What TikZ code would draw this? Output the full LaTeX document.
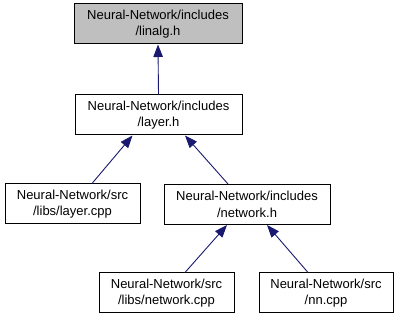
\documentclass[tikz,border=0pt]{standalone}
\usepackage{fontspec}
\setmainfont{Liberation Sans}
\usetikzlibrary{arrows.meta}
\definecolor{edgeblue}{HTML}{191970}
\definecolor{focusgray}{HTML}{BFBFBF}
\begin{document}
\begin{tikzpicture}[x=1pt,y=-1pt,
  filebox/.style={draw=black, line width=1pt, fill=white, align=center,
    inner sep=0pt, minimum height=40pt,
    font=\fontsize{13}{16.5}\selectfont},
  dep/.style={draw=edgeblue, line width=0.9pt,
    {Triangle[length=12.5pt,width=9.5pt]}-}
]
\useasboundingbox (0,0) rectangle (399,320);

% include graph nodes
\node[filebox, fill=focusgray, minimum width=168pt] (linalg) at (158,24)
  {Neural-Network/includes\\/linalg.h};
\node[filebox, minimum width=167pt] (layer) at (158.5,115)
  {Neural-Network/includes\\/layer.h};
\node[filebox, minimum width=135pt] (layercpp) at (72.5,204)
  {Neural-Network/src\\/libs/layer.cpp};
\node[filebox, minimum width=166pt] (network) at (247,204.5)
  {Neural-Network/includes\\/network.h};
\node[filebox, minimum width=135pt] (networkcpp) at (166.5,293)
  {Neural-Network/src\\/libs/network.cpp};
\node[filebox, minimum width=134pt] (nncpp) at (326,293)
  {Neural-Network/src\\/nn.cpp};

% dependency edges (arrow points at the included file)
\draw[dep] (linalg.south) -- (layer.north);
\draw[dep] ([xshift=-26pt]layer.south) -- ([xshift=19.5pt]layercpp.north);
\draw[dep] ([xshift=26.5pt]layer.south) -- ([xshift=-19pt]network.north);
\draw[dep] ([xshift=-20pt]network.south) -- ([xshift=18.5pt]networkcpp.north);
\draw[dep] ([xshift=20pt]network.south) -- ([xshift=-18pt]nncpp.north);
\end{tikzpicture}
\end{document}
